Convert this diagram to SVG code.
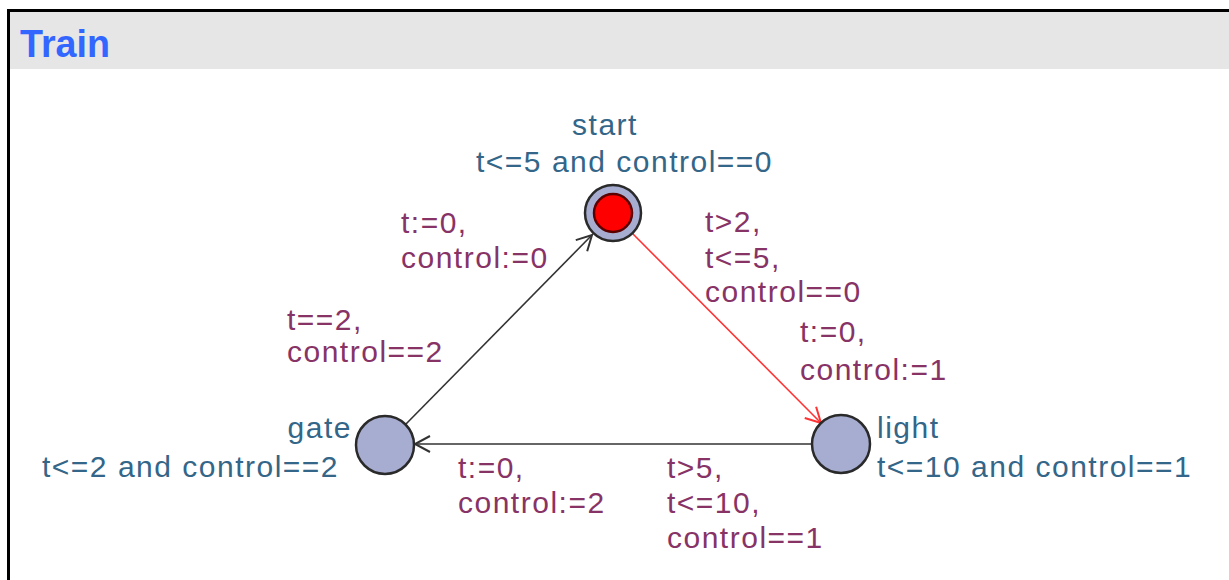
<svg xmlns="http://www.w3.org/2000/svg" width="1229" height="580" viewBox="0 0 1229 580">
<style>
.loc{fill:#a6add0;stroke:#2a2a2a;stroke-width:2.5}
.name{font-family:"Liberation Sans",Arial,sans-serif;font-size:30px;fill:#336688;letter-spacing:1.5px}
.lbl{font-family:"Liberation Sans",Arial,sans-serif;font-size:30px;fill:#883366;letter-spacing:1.5px}
.edge{fill:none;stroke-width:1.6}
</style>
<defs>
<marker id="arrB" markerUnits="userSpaceOnUse" markerWidth="24" markerHeight="24" refX="20" refY="12" orient="auto">
<path d="M5,4 L20,12 L5,20" fill="none" stroke="#333" stroke-width="2"/>
</marker>
<marker id="arrR" markerUnits="userSpaceOnUse" markerWidth="24" markerHeight="24" refX="20" refY="12" orient="auto">
<path d="M5,4 L20,12 L5,20" fill="none" stroke="#ff3333" stroke-width="2"/>
</marker>
</defs>
<rect x="0" y="0" width="1229" height="580" fill="#ffffff"/>
<rect x="10" y="12" width="1219" height="57" fill="#e6e6e6"/>
<path d="M8.5,580 V10.5 H1229" fill="none" stroke="#000" stroke-width="3"/>
<text x="20" y="57" font-family="Liberation Sans,Arial,sans-serif" font-weight="bold" font-size="39" fill="#3366ff" textLength="90" lengthAdjust="spacingAndGlyphs">Train</text>
<g id="connectors">
<line class="edge" x1="406" y1="424" x2="592" y2="235" stroke="#333" marker-end="url(#arrB)"/>
<line class="edge" x1="633" y1="234" x2="821" y2="423" stroke="#ff3333" marker-end="url(#arrR)"/>
<line class="edge" x1="812" y1="444" x2="415" y2="444" stroke="#333" stroke-width="2.4" marker-end="url(#arrB)"/>
<text class="lbl" x="401" y="233">t:=0,</text>
<text class="lbl" x="401" y="268">control:=0</text>
<text class="lbl" x="287" y="330">t==2,</text>
<text class="lbl" x="287" y="362">control==2</text>
<text class="lbl" x="705" y="232">t&gt;2,</text>
<text class="lbl" x="705" y="268">t&lt;=5,</text>
<text class="lbl" x="705" y="302">control==0</text>
<text class="lbl" x="800" y="342">t:=0,</text>
<text class="lbl" x="800" y="380">control:=1</text>
<text class="lbl" x="458" y="478">t:=0,</text>
<text class="lbl" x="458" y="513">control:=2</text>
<text class="lbl" x="667" y="478">t&gt;5,</text>
<text class="lbl" x="667" y="513">t&lt;=10,</text>
<text class="lbl" x="667" y="548">control==1</text>
</g>
<g id="start">
<circle class="loc" cx="613" cy="213" r="28"/>
<circle cx="613" cy="213" r="19" fill="#ff0000" stroke="#5a0000" stroke-width="2.5"/>
<text class="name" x="605" y="135" text-anchor="middle">start</text>
<text class="name" x="476" y="172">t&lt;=5 and control==0</text>
</g>
<g id="gate">
<circle class="loc" cx="385" cy="445" r="29"/>
<text class="name" x="352" y="438" text-anchor="end">gate</text>
<text class="name" x="42" y="477">t&lt;=2 and control==2</text>
</g>
<g id="light">
<circle class="loc" cx="841" cy="444" r="29"/>
<text class="name" x="877" y="438">light</text>
<text class="name" x="877" y="477">t&lt;=10 and control==1</text>
</g>
</svg>
